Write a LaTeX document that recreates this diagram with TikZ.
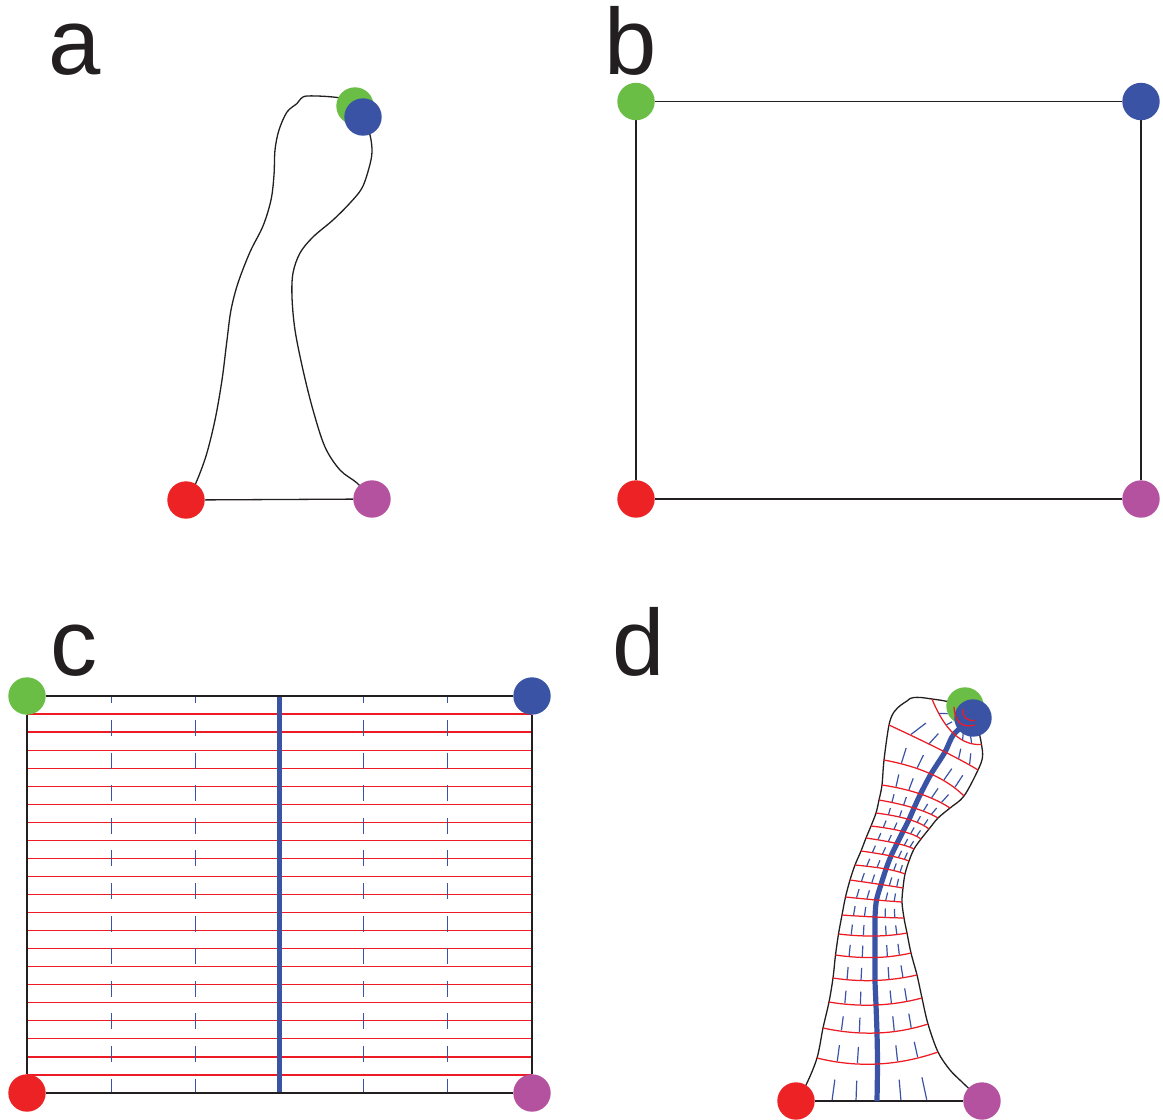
\documentclass[tikz,border=0pt]{standalone}
\usepackage{fontspec}
\setmainfont{Liberation Sans}
\usetikzlibrary{calc,backgrounds}
\definecolor{dotred}{RGB}{237,34,36}
\definecolor{dotpurple}{RGB}{181,82,160}
\definecolor{dotgreen}{RGB}{106,189,69}
\definecolor{dotblue}{RGB}{58,83,164}
\definecolor{ink}{RGB}{35,31,32}
\definecolor{gridred}{RGB}{237,28,36}
\tikzset{
  vertex/.style={circle, inner sep=0pt, minimum size=37.4pt, draw=none},
  outline/.style={draw=ink, line width=1.3pt},
  frameline/.style={draw=ink, line width=1.4pt},
  gridline/.style={draw=gridred, line width=1.25pt},
  spine/.style={draw=dotblue, line width=5.2pt},
  tickline/.style={draw=dotblue, line width=1.2pt},
  panellabel/.style={font=\fontsize{94}{100}\selectfont, anchor=base west, inner sep=0pt, text=ink},
}
% point of row \i at parameter #2 of the quadratic L-Q-R, stored as d<row><#1>
\newcommand\rowpoint[2]{%
  \coordinate (tA) at ($(L\i)!#2!(Q\i)$);
  \coordinate (tB) at ($(Q\i)!#2!(R\i)$);
  \coordinate (d\i#1) at ($(tA)!#2!(tB)$);
}
\begin{document}
\begin{tikzpicture}[x=1pt,y=-1pt]
\useasboundingbox (0,0) rectangle (1163,1120);

% ---------- panel labels ----------
\node[panellabel] (la) at (48,74) {a};
\node[panellabel] (lb) at (604,74) {b};
\node[panellabel] (lc) at (50,675) {c};
\node[panellabel] (ld) at (612,675) {d};

% ---------- corner markers ----------
\node[vertex, fill=dotred]    (ar) at (186,500) {};
\node[vertex, fill=dotpurple] (ap) at (372,499) {};
\node[vertex, fill=dotgreen]  (ag) at (355,106) {};
\node[vertex, fill=dotblue]   (ab) at (363,117) {};

\node[vertex, fill=dotgreen]  (bg) at (636,101.5) {};
\node[vertex, fill=dotblue]   (bb) at (1141,101.5) {};
\node[vertex, fill=dotred]    (br) at (636,499) {};
\node[vertex, fill=dotpurple] (bp) at (1141,499) {};

\node[vertex, fill=dotgreen]  (cg) at (27,696) {};
\node[vertex, fill=dotblue]   (cb) at (532,696) {};
\node[vertex, fill=dotred]    (cr) at (27,1093) {};
\node[vertex, fill=dotpurple] (cp) at (532,1093) {};

\node[vertex, fill=dotred]    (dr) at (796,1101) {};
\node[vertex, fill=dotpurple] (dp) at (982,1101) {};
\node[vertex, fill=dotgreen]  (dg) at (965,706) {};
\node[vertex, fill=dotblue]   (db) at (973,718) {};

% ---------- rows of the deformed grid: left end, crossing of the spine, right end ----------
\foreach \i/\lx/\ly/\mx/\my/\rx/\ry in {
  1/817/1058/877.5/1064/938/1052,
  2/823/1028/877/1033/928/1024,
  3/829/1002/876/1005/922/998,
  4/833/978/875/980.5/917/975,
  5/835.5/955/875/957.5/911/953,
  6/838.5/934/875/936/907/933,
  7/842/915/875/917/904/918,
  8/845.5/897/876.5/900/902/902,
  9/850/880/881/884.5/903/888,
  10/855/865/886/869/905/874,
  11/861/851/891/856/909/861,
  12/866/838/897/843.5/914/849,
  13/871/826/903/831.5/921/839,
  14/876/813/909/819.5/929/829,
  15/879/800/914/808/938/818,
  16/882/785/920.5/794/950/808,
  17/884/760/931/774/964/796,
  18/889/725/945/752/978/770,
  19/932/699/954/734/981.5/744.5,
  20/954/707/960/723/975/725,
  21/963/709/965.5/718/975/720.5}{
  \coordinate (L\i) at (\lx,\ly);
  \coordinate (M\i) at (\mx,\my);
  \coordinate (R\i) at (\rx,\ry);
  \coordinate (C\i) at ($(L\i)!0.5!(R\i)$);
  \coordinate (Q\i) at ($(C\i)!2!(M\i)$);
  \rowpoint{c1}{0.16667}
  \rowpoint{c2}{0.33333}
  \rowpoint{c4}{0.66667}
  \rowpoint{c5}{0.83333}
}
% bottom edge positions of the longitudinal lines
\coordinate (d0c1) at (832,1101);
\coordinate (d0c2) at (856,1101);
\coordinate (d0c3) at (877,1101);
\coordinate (d0c4) at (901,1101);
\coordinate (d0c5) at (927,1101);

\begin{scope}[on background layer]
  \fill[white] (0,0) rectangle (1163,1120);

  % ---------- a: the outline ----------
  \draw[outline] (ar) -- (ap);
  \draw[outline] plot[smooth, tension=0.55] coordinates {
    (ar.center) (195,485) (206,456) (215,420) (222,380) (227,340) (231,310)
    (238,283) (250,252) (263,226) (271,200) (274,175) (275,150) (279,130)
    (287,112) (297,103.5) (301,98.5) (307,96) (327,96.5) (345,99) (ag.center)};
  \draw[outline] plot[smooth, tension=0.55] coordinates {
    (ab.center) (370,135) (372,152) (369,168) (362,188) (350,203) (333,220)
    (313,237) (300,253) (293,273) (292,297) (295,330) (303,370) (313,410)
    (325,447) (340,470) (357,483) (ap.center)};

  % ---------- b: the rectangle ----------
  \draw[frameline] (bg) -- (bb);
  \draw[frameline] (bb) -- (bp);
  \draw[frameline] (bp) -- (br);
  \draw[frameline] (br) -- (bg);

  % ---------- c: the rectangle with its grid ----------
  \foreach \k [evaluate=\k as \f using \k/22] in {1,...,21}
    \draw[gridline] ($(cg)!\f!(cr)$) -- ($(cb)!\f!(cp)$);
  \foreach \f in {0.16667,0.33333,0.66667,0.83333}
    \draw[tickline, dash pattern=on 16pt off 16.6pt, dash phase=8.6pt]
      ($(cg)!\f!(cb)$) -- ($(cr)!\f!(cp)$);
  \draw[spine] ($(cg)!0.5!(cb)$) -- ($(cr)!0.5!(cp)$);
  \draw[frameline] (cg) -- (cb);
  \draw[frameline] (cb) -- (cp);
  \draw[frameline] (cp) -- (cr);
  \draw[frameline] (cr) -- (cg);

  % ---------- d: outline and spine ----------
  \draw[outline] (dr) -- (dp);
  \draw[outline] plot[smooth, tension=0.55] coordinates {
    (dr.center) (806,1085) (L1) (L2) (L3) (L4) (L5) (L6) (L7) (L8) (L9)
    (L10) (L11) (L12) (L13) (L14) (L15) (L16) (L17) (L18)
    (894,712) (901,705) (907,701) (910,698.5) (914,697.5) (921,697.5)
    (L19) (945,701) (dg.center)};
  \draw[outline] plot[smooth, tension=0.55] coordinates {
    (db.center) (979,733) (R19) (982.5,757) (R18) (R17) (R16) (R15) (R14)
    (R13) (R12) (R11) (R10) (R9) (R8) (R7) (R6) (R5) (R4) (R3) (R2) (R1)
    (950,1070) (962,1082) (dp.center)};
  \draw[spine] plot[smooth, tension=0.5] coordinates {
    (d0c3) (M1) (M2) (M3) (M4) (M5) (M6) (M7) (M8) (M9) (M10) (M11) (M12)
    (M13) (M14) (M15) (M16) (M17) (M18) (M19) (db.center)};
\end{scope}

% ---------- d: transverse curves, drawn over the markers ----------
\foreach \i in {1,...,21}
  \draw[gridline] (L\i) .. controls ($(L\i)!0.66667!(Q\i)$) and ($(R\i)!0.66667!(Q\i)$) .. (R\i);

% ---------- d: dashes of the longitudinal lines, one per cell ----------
\foreach \i/\j in {0/1,1/2,2/3,3/4,4/5,5/6,6/7,7/8,8/9,9/10,10/11,11/12,
                   12/13,13/14,14/15,15/16,16/17,17/18,18/19,19/20}{
  \draw[tickline] ($(d\i c1)!0.03!(d\j c1)$) -- ($(d\i c1)!0.55!(d\j c1)$);
  \draw[tickline] ($(d\i c2)!0.03!(d\j c2)$) -- ($(d\i c2)!0.55!(d\j c2)$);
  \draw[tickline] ($(d\i c4)!0.03!(d\j c4)$) -- ($(d\i c4)!0.55!(d\j c4)$);
  \draw[tickline] ($(d\i c5)!0.03!(d\j c5)$) -- ($(d\i c5)!0.55!(d\j c5)$);
}
\end{tikzpicture}
\end{document}
